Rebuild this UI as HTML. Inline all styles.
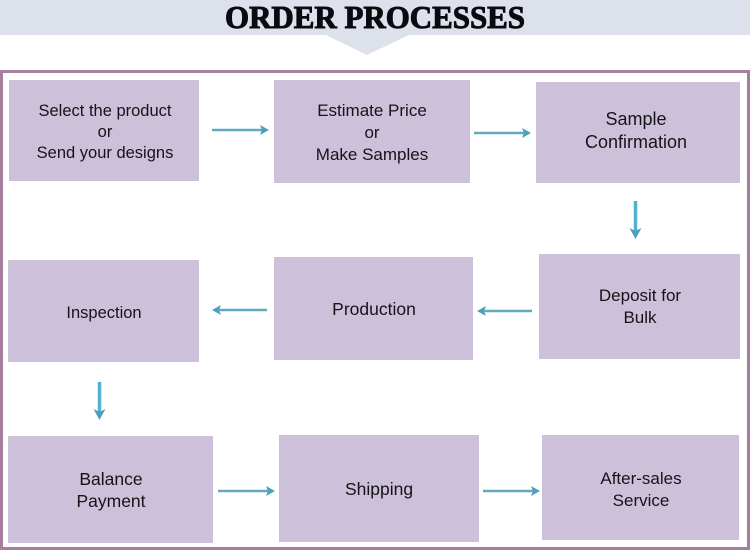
<!DOCTYPE html>
<html><head><meta charset="utf-8"><style>
html,body{margin:0;padding:0;background:#fff}
svg{display:block}
text{font-family:"Liberation Sans",sans-serif;font-size:16.500px;fill:#141418;text-anchor:middle}
</style></head><body>
<svg width="750" height="550" viewBox="0 0 750 550" xmlns="http://www.w3.org/2000/svg">
<rect x="0" y="0" width="750" height="35" fill="#dce1ec"/>
<polygon points="326,35 409,35 367,55" fill="#dce1ec"/>
<text x="375" y="28" textLength="300" lengthAdjust="spacingAndGlyphs" style="font-family:'Liberation Serif',serif;font-weight:bold;font-size:32px;fill:#0a0a0f;stroke:#0a0a0f;stroke-width:1">ORDER PROCESSES</text>
<rect x="1.500" y="71.500" width="747" height="477" fill="#fff" stroke="#a67f9f" stroke-width="3"/>
<g fill="#cdc0da">
<rect x="9" y="80" width="190" height="101"/>
<rect x="274" y="80" width="196" height="103"/>
<rect x="536" y="82" width="204" height="101"/>
<rect x="539" y="254" width="201" height="105"/>
<rect x="274" y="257" width="199" height="103"/>
<rect x="8" y="260" width="191" height="102"/>
<rect x="8" y="436" width="205" height="107"/>
<rect x="279" y="435" width="200" height="107"/>
<rect x="542" y="435" width="197" height="105"/>
</g>
<text x="105" y="116">Select the product</text>
<text x="105" y="137">or</text>
<text x="105" y="158">Send your designs</text>
<text x="372" y="116" style="font-size:17px">Estimate Price</text>
<text x="372" y="138" style="font-size:17px">or</text>
<text x="372" y="160" style="font-size:17px">Make Samples</text>
<text x="636" y="125" style="font-size:18px">Sample</text>
<text x="636" y="148" style="font-size:18px">Confirmation</text>
<text x="640" y="301" style="font-size:17px">Deposit for</text>
<text x="640" y="323" style="font-size:17px">Bulk</text>
<text x="374" y="315" style="font-size:17.500px">Production</text>
<text x="104" y="318">Inspection</text>
<text x="111" y="485" style="font-size:17.500px">Balance</text>
<text x="111" y="507" style="font-size:17.500px">Payment</text>
<text x="379" y="495" style="font-size:17.500px">Shipping</text>
<text x="641" y="484" style="font-size:17px">After-sales</text>
<text x="641" y="506" style="font-size:17px">Service</text>
<g stroke="#63a9bd" stroke-width="2.500" fill="none">
<line x1="212" y1="130" x2="266" y2="130"/>
<line x1="474" y1="133" x2="528" y2="133"/>
<line x1="532" y1="311" x2="480" y2="311"/>
<line x1="267" y1="310" x2="215" y2="310"/>
<line x1="218" y1="491" x2="272" y2="491"/>
<line x1="483" y1="491" x2="537" y2="491"/>
</g>
<g stroke="#4fb0d0" stroke-width="3.500" fill="none">
<line x1="635.500" y1="201" x2="635.500" y2="233"/>
<line x1="99.500" y1="382" x2="99.500" y2="414"/>
</g>
<g fill="#4d9fbc">
<polygon points="269,130 260,125 262,130 260,135"/>
<polygon points="531,133 522,128 524,133 522,138"/>
<polygon points="477,311 486,306 484,311 486,316"/>
<polygon points="212,310 221,305 219,310 221,315"/>
<polygon points="275,491 266,486 268,491 266,496"/>
<polygon points="540,491 531,486 533,491 531,496"/>
<polygon points="635.500,239 629.500,228 635.500,231 641.500,228"/>
<polygon points="99.500,420 93.500,409 99.500,412 105.500,409"/>
</g>
</svg>
</body></html>
